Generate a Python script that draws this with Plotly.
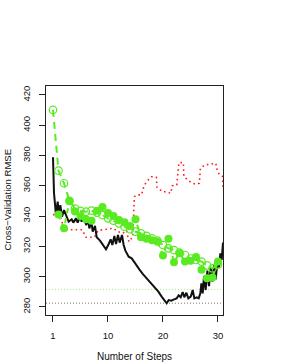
import plotly.graph_objects as go

# ---- data ----
steps = list(range(31))
filled_steps = list(range(1, 31))
tick_vals = [0, 10, 20, 30]
tick_text = ["1", "10", "20", "30"]
y_ticks = [280, 300, 320, 340, 360, 380, 400, 420]

black_x = [0.0, 0.19, 0.55, 0.85, 1.10, 1.34, 1.64, 2.01, 2.37, 2.85, 3.40, 3.70, 4.19, 4.49,
           4.92, 5.22, 5.64, 6.01, 6.37, 6.61, 6.98, 7.22, 7.64, 7.95, 8.55, 9.04, 9.64, 10.13,
           10.49, 10.79, 11.16, 11.46, 11.82, 12.13, 12.55, 12.85, 13.16, 13.76, 14.31, 14.73,
           15.22, 15.70, 16.31, 16.92, 17.64, 18.37, 19.16, 19.76, 20.37, 20.67, 21.04, 21.52,
           22.01, 22.49, 22.85, 23.22, 23.58, 23.88, 24.25, 24.61, 25.04, 25.40, 25.70, 26.13,
           26.49, 26.79, 26.98, 27.22, 27.46, 27.76, 28.07, 28.37, 28.67, 28.98, 29.28, 29.58,
           29.88, 30.19, 30.43, 30.67, 30.91]
black_y = [378.8, 355.0, 340.7, 349.5, 340.7, 347.3, 339.6, 344.0, 340.7, 336.3, 337.9, 335.7,
           338.5, 335.7, 339.6, 336.3, 339.6, 334.1, 337.4, 331.9, 336.3, 329.7, 333.5, 326.0,
           323.8, 320.9, 318.1, 321.6, 324.7, 320.9, 326.9, 321.6, 327.5, 322.5, 327.5, 320.9,
           317.2, 313.2, 312.1, 309.9, 307.7, 304.8, 301.8, 299.3, 296.7, 293.4, 290.1, 286.8,
           283.5, 282.4, 284.6, 284.2, 285.0, 285.7, 287.7, 286.4, 289.9, 286.4, 289.4, 285.7,
           286.8, 291.2, 285.7, 286.4, 285.7, 289.0, 295.6, 289.0, 300.4, 291.2, 304.0, 293.8,
           306.2, 296.7, 307.7, 298.2, 309.2, 306.2, 315.4, 311.0, 322.5]

open_y = [410.1, 370.0, 361.7, 350.0, 345.0, 343.4, 342.9, 343.6, 342.3, 340.7, 338.5, 337.0,
          335.2, 333.0, 331.3, 329.7, 328.6, 326.9, 325.3, 323.8, 320.9, 318.7, 317.6, 315.9,
          314.3, 312.0, 311.0, 310.0, 307.5, 305.5, 308.0]

filled_y = [341.0, 332.0, 350.0, 343.0, 340.0, 338.0, 337.0, 343.5, 346.0, 342.0, 340.0,
            337.5, 336.0, 333.5, 338.0, 326.0, 325.0, 324.0, 323.0, 314.0, 325.0, 309.5, 315.5,
            310.0, 310.5, 313.0, 304.5, 299.0, 299.5, 310.0]

red_x = [0.0, 1.2, 2.1, 5.3, 6.0, 7.5, 8.2, 11.0, 11.8, 12.7, 13.4, 13.8, 14.5, 14.8, 15.2,
         16.1, 16.5, 17.0, 17.9, 18.8, 18.9, 19.9, 20.8, 21.4, 21.7, 22.5, 22.9, 23.7, 23.8,
         24.4, 25.3, 26.1, 26.6, 26.8, 27.6, 28.7, 29.6, 29.9, 30.3, 30.85, 30.9]
red_y = [341.0, 341.0, 331.0, 331.0, 326.0, 326.0, 330.5, 332.0, 329.7, 328.7, 330.5, 323.0,
         326.4, 352.8, 354.0, 354.0, 359.4, 362.7, 366.0, 365.6, 359.0, 356.1, 356.0, 355.0,
         360.0, 360.5, 375.3, 375.3, 366.0, 364.3, 361.7, 361.0, 361.7, 371.6, 373.8, 374.3,
         374.9, 369.6, 367.2, 366.1, 359.4]

ref_gray = 282.5
ref_green = 291.6

x_range = [-1.27, 30.91]
y_range = [274.7, 425.9]

GREEN = "#5AEA22"
font_family = "Liberation Sans, Arial, sans-serif"

fig = go.Figure()

# reference horizontal dotted lines
fig.add_trace(go.Scatter(x=x_range, y=[ref_gray, ref_gray], mode="lines",
                         line=dict(color="#7a7a7a", width=1, dash="1px,2px"),
                         hoverinfo="skip", showlegend=False))
fig.add_trace(go.Scatter(x=x_range, y=[ref_green, ref_green], mode="lines",
                         line=dict(color="#A8EE90", width=1, dash="1px,2px"),
                         hoverinfo="skip", showlegend=False))

# red dotted
fig.add_trace(go.Scatter(x=red_x, y=red_y, mode="lines",
                         line=dict(color="#FF2020", width=1.6, dash="1.6px,3.2px"),
                         showlegend=False))

# black solid
fig.add_trace(go.Scatter(x=black_x, y=black_y, mode="lines",
                         line=dict(color="#111111", width=2),
                         showlegend=False))

# green open circles, dashed
fig.add_trace(go.Scatter(x=steps, y=open_y, mode="lines+markers",
                         line=dict(color=GREEN, width=2, dash="7px,5px"),
                         marker=dict(symbol="circle-open", size=7.5, color=GREEN,
                                     line=dict(width=1.2, color=GREEN)),
                         showlegend=False))

# green filled circles, dashed
fig.add_trace(go.Scatter(x=filled_steps, y=filled_y, mode="lines+markers",
                         line=dict(color=GREEN, width=2, dash="5px,5px"),
                         marker=dict(symbol="circle", size=8, color=GREEN),
                         showlegend=False))

axis_common = dict(showline=True, mirror=True, linecolor="#222222", linewidth=1,
                   showgrid=False, zeroline=False, ticks="outside", ticklen=6,
                   tickcolor="#222222", tickwidth=1, automargin=False,
                   tickfont=dict(family=font_family, size=9.5, color="#111111"))

fig.update_layout(
    width=292, height=364,
    margin=dict(l=46, r=69, t=86, b=49, pad=0),
    paper_bgcolor="white", plot_bgcolor="white",
    xaxis=dict(range=x_range, tickvals=tick_vals, ticktext=tick_text,
               ticklabelstandoff=6, **axis_common),
    yaxis=dict(range=y_range, tickvals=y_ticks, tickangle=-90,
               ticklabelstandoff=5, **axis_common),
    annotations=[
        dict(text="Number of Steps", xref="paper", yref="paper", x=0.5, y=0,
             xanchor="center", yanchor="middle", yshift=-41, showarrow=False,
             font=dict(family=font_family, size=10, color="#111111")),
        dict(text="Cross\u2212Validation RMSE", xref="paper", yref="paper", x=0, y=0.5,
             xanchor="center", yanchor="middle", xshift=-39, textangle=-90, showarrow=False,
             font=dict(family=font_family, size=9.5, color="#111111")),
    ],
)

fig.write_html("out.html", config={"displayModeBar": False},
               post_script="document.body.style.margin='0';")
